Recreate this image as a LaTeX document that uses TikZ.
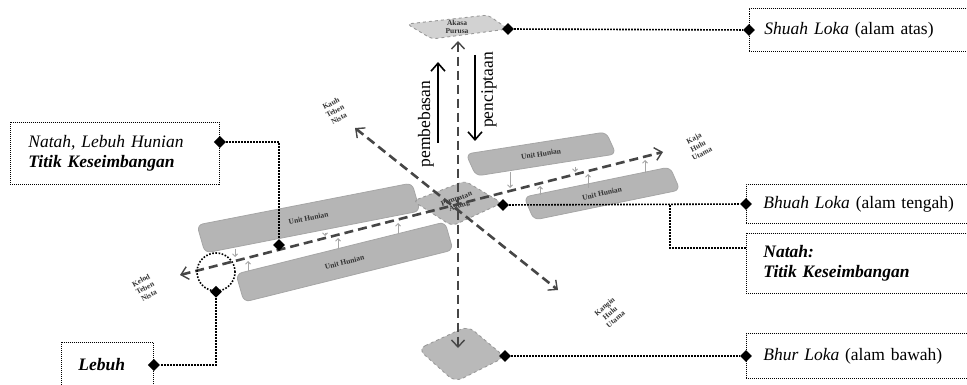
\documentclass[tikz,border=0pt]{standalone}
\usepackage{fontspec}
\setmainfont{Liberation Serif}
\usepackage{tikz}
\usetikzlibrary{arrows.meta, positioning, shapes.geometric, calc}

\tikzset{
    axisline/.style={draw=gray!55!black, line width=2.6pt, dash pattern=on 9pt off 5pt,
        {Straight Barb[length=7pt,width=13pt,line width=1.4pt]}-{Straight Barb[length=7pt,width=13pt,line width=1.4pt]}},
    flow/.style={draw=black, line width=1.8pt, -{Straight Barb[length=8pt,width=14pt,line width=1.6pt]}},
    minor/.style={draw=gray!70, line width=1pt, -{Straight Barb[length=2.5pt,width=5pt]}},
    link/.style={draw=black, line width=1.6pt, dash pattern=on 1.6pt off 1.4pt},
    dmark/.style={diamond, fill=black, inner sep=0pt, minimum size=12pt},
    infobox/.style={draw=black, line width=0.9pt, dash pattern=on 1pt off 1pt, rectangle,
        align=left, inner ysep=0pt, font=\fontsize{17.5}{20}\selectfont},
    slab/.style={fill=gray!58, draw=gray!70, line width=0.8pt, rounded corners=6pt},
    tile/.style={fill=gray!55, draw=gray!80, line width=0.9pt, dashed, rounded corners=5pt},
    tiny label/.style={font=\bfseries\fontsize{7.5}{8.5}\selectfont, align=center, text=black!80},
}

\begin{document}
\begin{tikzpicture}[x=1pt, y=-1pt]
    \clip (0,0) rectangle (967,385);

    % Unit Hunian slabs: corner / long side / short side / angle
    \foreach \px/\py/\lx/\ly/\sx/\sy/\ang in {197/225/215/-42/8/28/11, 236/274/209/-52/8/28/14,
                                              466/154/140/-22/10/22/9, 524/197/146/-30/10/23/12} {
        \draw[slab] (\px,\py) -- ++(\lx,\ly) -- ++(\sx,\sy) -- ($(\px,\py)+(\sx,\sy)$) -- cycle;
        \node[tiny label, rotate=\ang] at ($(\px,\py)+0.5*(\lx,\ly)+0.5*(\sx,\sy)$) {Unit Hunian};
    }

    % Small arrows between slabs and the axis
    \foreach \ax/\ya/\yb in {235/249/257, 248/271/261, 325/233/236, 338/249/238, 398/234/223,
                             510/172/188, 540/195/186, 575/167/172, 588/188/174, 645/173/160} {
        \draw[minor] (\ax,\ya) -- (\ax,\yb);
    }

    % Tiles
    \draw[tile, fill=gray!35, rounded corners=4pt] (407,24) -- (488,15) -- (508,29) -- (432,39) -- cycle;
    \draw[tile] (413,201) -- (465,181) -- (502,203) -- (452,226) -- cycle;
    \draw[tile, rounded corners=8pt] (418,349) -- (468,326) -- (505,357) -- (455,382) -- cycle;

    \node[tiny label] (akasa) at (457,27) {Akasa\\[-1pt]Purusa};
    \node[tiny label, rotate=20] (pempatan) at (458,203) {Pempatan\\[-1pt]Agung};

    % Axes
    \coordinate (zenith)    at (458,41);
    \coordinate (nadir)     at (458,348);
    \coordinate (kauhTip)   at (355,128);
    \coordinate (kanginTip) at (558,290);
    \coordinate (kelodTip)  at (180,275);
    \coordinate (kajaTip)   at (663,152);
    \draw[axisline] (zenith) -- (nadir);
    \draw[axisline] (kauhTip) -- (kanginTip);
    \draw[axisline] (kelodTip) -- (kajaTip);

    % Axis labels
    \node[tiny label, rotate=28] (kauh)   at (335,111) {Kauh\\Teben\\Nista};
    \node[tiny label, rotate=28] (kaja)   at (698,146) {Kaja\\Hulu\\Utama};
    \node[tiny label, rotate=40] (kangin) at (610,313) {Kangin\\Hulu\\Utama};
    \node[tiny label, rotate=28] (kelod)  at (145,288) {Kelod\\Teben\\Nista};

    % Pembebasan / penciptaan
    \node[rotate=90, font=\fontsize{17.5}{20}\selectfont] (pembebasan) at (426,124) {pembebasan};
    \node[rotate=90, font=\fontsize{17.5}{20}\selectfont] (penciptaan) at (489,90) {penciptaan};
    \coordinate (upFoot)   at (438,143);
    \coordinate (upHead)   at (438,62);
    \coordinate (downFoot) at (475,55);
    \coordinate (downHead) at (475,141);
    \draw[flow] (upFoot) -- (upHead);
    \draw[flow] (downFoot) -- (downHead);

    % Right boxes
    \node[infobox, anchor=west, text width=240pt, inner xsep=15pt, minimum height=43pt] (shuah) at (749,30)
        {\textit{Shuah Loka} (alam atas)};
    \node[infobox, anchor=west, text width=240pt, inner xsep=17pt, minimum height=39pt] (bhuah) at (746,204)
        {\textit{Bhuah Loka} (alam tengah)};
    \node[infobox, anchor=north west, text width=240pt, inner xsep=17pt, minimum height=60pt] (natah) at (746,233)
        {\textbf{\textit{Natah:}}\\\textbf{\textit{Titik Keseimbangan}}};
    \node[infobox, anchor=west, text width=240pt, inner xsep=17pt, minimum height=45pt] (bhur) at (746,356)
        {\textit{Bhur Loka} (alam bawah)};

    % Left boxes
    \node[infobox, anchor=north west, text width=173pt, inner xsep=18pt, minimum height=62pt] (natahLebuh) at (10,122)
        {\textit{Natah, Lebuh Hunian}\\\textbf{\textit{Titik Keseimbangan}}};
    \node[infobox, anchor=west, text width=58pt, inner xsep=17pt, minimum height=46pt] (lebuh) at (61,365)
        {\textbf{\textit{Lebuh}}};

    % Lebuh ring
    \node[circle, draw=black, line width=1.6pt, dash pattern=on 1.6pt off 1.6pt, minimum size=38pt,
          inner sep=0pt] (lebuhRing) at (216,272) {};

    % Markers
    \node[dmark] (mAkasa)  at (508,29) {};
    \node[dmark] (mShuah)  at (shuah.west) {};
    \node[dmark] (mCentre) at (503,205) {};
    \node[dmark] (mBhuah)  at (bhuah.west) {};
    \node[dmark] (mBhurL)  at (505,356) {};
    \node[dmark] (mBhur)   at (bhur.west) {};
    \node[dmark] (mAxis)   at (279,245) {};
    \node[dmark] (mNatahL) at ($(natahLebuh.north east)+(0,20)$) {};
    \node[dmark] (mRing)   at (lebuhRing.south) {};
    \node[dmark] (mLebuh)  at (lebuh.east) {};

    % Connectors
    \draw[link] (mAkasa) -- (mShuah);
    \draw[link] (mCentre) -- (mBhuah);
    \coordinate (split) at (670,205);
    \draw[link] (split) |- ($(natah.north west)+(0,15)$);
    \draw[link] (mBhurL) -- (mBhur);
    \draw[link] (mNatahL) -| (mAxis);
    \draw[link] (mRing) |- (mLebuh);
\end{tikzpicture}
\end{document}
